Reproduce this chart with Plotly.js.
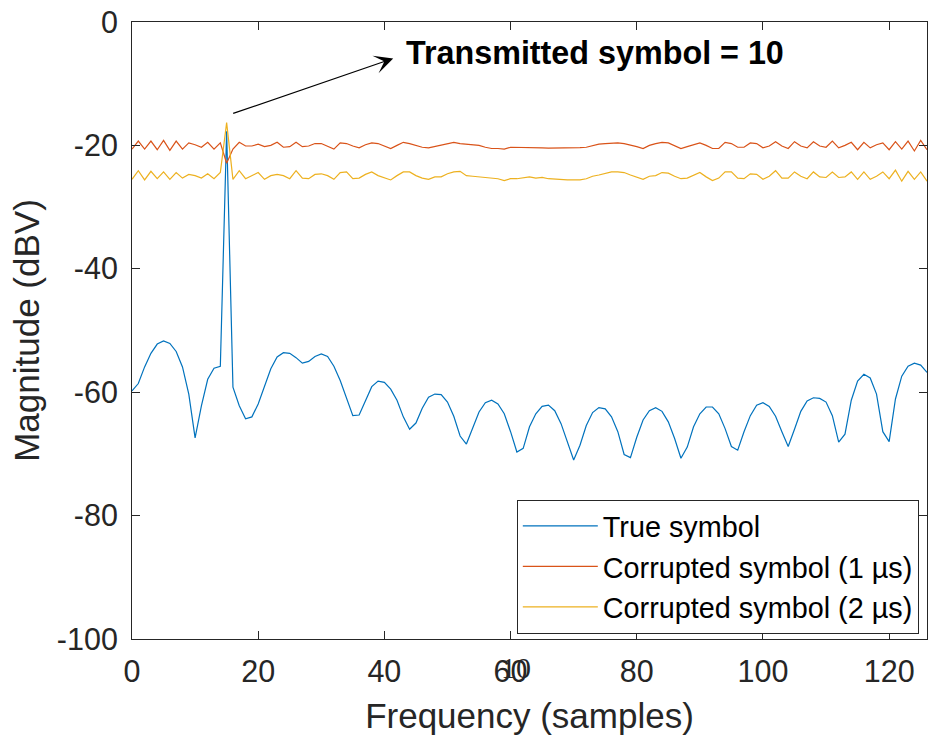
<!DOCTYPE html>
<html>
<head>
<meta charset="utf-8">
<script src="https://cdn.plot.ly/plotly-3.0.1.min.js"></script>
<style>html,body{margin:0;padding:0;background:#fff;}#chart{width:929px;height:742px;}</style>
</head>
<body>
<div id="chart"></div>
<script>
const frequency = [0,1,2,3,4,5,6,7,8,9,10,11,12,13,14,15,16,17,18,19,20,21,22,23,24,25,26,27,28,29,30,31,32,33,34,35,36,37,38,39,40,41,42,43,44,45,46,47,48,49,50,51,52,53,54,55,56,57,58,59,60,61,62,63,64,65,66,67,68,69,70,71,72,73,74,75,76,77,78,79,80,81,82,83,84,85,86,87,88,89,90,91,92,93,94,95,96,97,98,99,100,101,102,103,104,105,106,107,108,109,110,111,112,113,114,115,116,117,118,119,120,121,122,123,124,125,126];

const trueSymbol = [
-59.8,-58.6,-55.9,-53.7,-52.2,-51.7,-52.1,-53.4,-55.9,-60.3,
-67.4,-62.2,-57.9,-56.1,-55.8,-17.7,-59.2,-62.2,-64.3,-64.0,
-61.9,-58.9,-56.2,-54.3,-53.6,-53.7,-54.4,-55.3,-55.0,-54.2,
-53.8,-54.2,-55.8,-58.1,-61.1,-63.8,-63.7,-61.3,-59.1,-58.2,
-58.4,-59.5,-61.3,-64.0,-66.0,-65.0,-62.6,-60.8,-60.3,-60.4,
-61.6,-63.9,-67.1,-68.4,-65.9,-63.2,-61.7,-61.3,-61.9,-63.5,
-66.4,-69.7,-69.1,-65.6,-63.5,-62.3,-62.1,-63.0,-65.1,-68.1,
-71.0,-68.6,-65.4,-63.3,-62.5,-62.7,-64.0,-66.4,-70.1,-70.6,
-67.3,-64.5,-63.0,-62.5,-63.1,-64.8,-67.5,-70.7,-68.9,-65.6,
-63.5,-62.4,-62.4,-63.5,-65.9,-68.8,-69.4,-66.4,-63.8,-62.1,
-61.7,-62.3,-63.9,-66.4,-68.8,-66.0,-63.1,-61.4,-60.9,-61.0,
-61.6,-63.8,-68.1,-66.8,-61.3,-58.2,-57.1,-57.7,-60.3,-66.4,
-68.0,-61.1,-57.4,-55.8,-55.3,-55.6,-56.8];

const corrupted1us = [
-20.6,-19.3,-20.6,-19.3,-20.7,-19.2,-20.8,-19.3,-20.6,-19.6,
-19.9,-20.3,-19.5,-20.6,-19.6,-22.9,-20.6,-19.5,-20.1,-20.1,
-19.8,-20.2,-20.0,-19.5,-20.3,-20.2,-19.5,-20.2,-20.1,-19.7,
-19.7,-20.1,-20.6,-19.6,-19.7,-20.1,-20.4,-19.9,-19.6,-19.7,
-20.1,-20.5,-20.0,-19.5,-19.7,-20.0,-20.3,-20.4,-20.2,-20.0,
-19.7,-19.5,-19.7,-19.8,-20.0,-20.0,-20.3,-20.5,-20.5,-20.6,
-20.3,-20.3,-20.4,-20.4,-20.4,-20.4,-20.45,-20.45,-20.4,-20.4,
-20.4,-20.35,-20.3,-20.0,-19.8,-19.7,-19.6,-19.6,-19.7,-19.9,
-20.2,-20.5,-20.0,-19.7,-19.5,-19.6,-20.1,-20.5,-20.2,-19.9,
-19.6,-20.0,-20.5,-20.5,-19.5,-19.7,-20.3,-20.3,-19.6,-19.7,
-20.4,-20.1,-19.4,-20.1,-20.5,-19.4,-20.1,-20.4,-19.4,-20.1,
-20.3,-19.3,-20.4,-20.0,-19.5,-20.7,-19.5,-20.4,-19.9,-19.6,
-20.7,-19.4,-20.6,-19.3,-20.9,-19.2,-20.7];

const corrupted2us = [
-25.5,-24.1,-25.6,-24.2,-25.4,-24.3,-25.5,-24.4,-25.3,-24.7,
-24.9,-25.3,-24.6,-25.4,-24.4,-16.3,-25.5,-24.1,-25.4,-24.9,
-24.4,-25.5,-24.9,-24.7,-24.9,-25.4,-24.1,-25.3,-25.4,-24.7,
-24.6,-24.9,-25.5,-24.4,-24.3,-25.4,-25.3,-24.7,-24.3,-24.9,
-25.3,-25.6,-24.9,-24.3,-24.3,-24.9,-25.3,-25.5,-25.1,-25.1,
-24.6,-24.3,-24.2,-24.9,-25.0,-25.1,-25.1,-25.3,-25.4,-25.7,
-25.4,-25.4,-25.3,-25.1,-25.3,-25.2,-25.4,-25.5,-25.6,-25.6,
-25.6,-25.6,-25.4,-25.0,-24.8,-24.6,-24.3,-24.3,-24.4,-24.8,
-25.2,-25.5,-25.0,-24.9,-24.4,-24.5,-25.0,-25.4,-25.3,-24.9,
-24.4,-25.1,-25.7,-25.3,-24.3,-24.3,-25.3,-25.4,-24.6,-24.7,
-25.5,-25.0,-24.1,-25.3,-25.3,-24.3,-25.0,-25.4,-24.3,-25.1,
-25.2,-24.3,-25.2,-25.1,-24.3,-25.5,-24.3,-25.5,-25.0,-24.3,
-25.4,-24.0,-25.8,-24.2,-25.5,-24.3,-25.8];

const seriesNames = ['True symbol', 'Corrupted symbol (1 \u00b5s)', 'Corrupted symbol (2 \u00b5s)'];
const xTickVals = [0, 20, 40, 60, 80, 100, 120];
const xTickText = ['0', '20', '40', '60', '80', '100', '120'];
const yTickVals = [-100, -80, -60, -40, -20, 0];
const yTickText = ['-100', '-80', '-60', '-40', '-20', '0'];
const annotationText = 'Transmitted symbol = 10';
const strayLabel = '10';

const FONT = 'Liberation Sans, Arial, Helvetica, sans-serif';
const AX = '#262626';
const colors = ['#0072BD', '#D95319', '#EDB120'];
const series = [trueSymbol, corrupted1us, corrupted2us];

const traces = series.map((ys, k) => ({
  type: 'scatter', mode: 'lines', x: frequency, y: ys, name: seriesNames[k],
  line: {color: colors[k], width: 1.2}
}));

const axisCommon = {
  showline: true, linecolor: AX, linewidth: 1, mirror: 'ticks',
  ticks: 'inside', ticklen: 8, tickwidth: 1, tickcolor: AX,
  showgrid: false, zeroline: false, automargin: false,
  tickfont: {family: FONT, size: 30.5, color: AX}
};

const layout = {
  width: 929, height: 742,
  margin: {l: 132, r: 1.5, t: 22, b: 103},
  paper_bgcolor: '#fff', plot_bgcolor: '#fff',
  showlegend: true,
  xaxis: Object.assign({}, axisCommon, {
    range: [0, 126], tickmode: 'array', tickvals: xTickVals, ticktext: xTickText,
    ticklabelstandoff: 5,
    title: {text: 'Frequency (samples)', font: {family: FONT, size: 35, color: AX}, standoff: 16}
  }),
  yaxis: Object.assign({}, axisCommon, {
    range: [-100, 0], tickmode: 'array', tickvals: yTickVals, ticktext: yTickText,
    ticklabelstandoff: 7,
    title: {text: 'Magnitude (dBV)', font: {family: FONT, size: 35, color: AX}, standoff: 6}
  }),
  legend: {
    x: 0.9897, xanchor: 'right', y: 0.0086, yanchor: 'bottom',
    bgcolor: '#fff', bordercolor: AX, borderwidth: 1,
    font: {family: FONT, size: 28.8, color: '#000'},
    itemwidth: 75, tracegroupgap: 0
  },
  annotations: [
    {x: 41.4, y: -5.9, xref: 'x', yref: 'y', ax: 15.8, ay: -14.9, axref: 'x', ayref: 'y',
     text: '', showarrow: true, arrowhead: 3, arrowsize: 2.6, arrowwidth: 1.2, arrowcolor: '#000'},
    {x: 43.1, y: -5.0, xref: 'x', yref: 'y', xanchor: 'left', yanchor: 'middle', showarrow: false,
     text: '<b>' + annotationText + '</b>', font: {family: FONT, size: 32.3, color: '#000'}},
    {x: 0.4829, y: -0.0465, xref: 'paper', yref: 'paper', xanchor: 'center', yanchor: 'middle', showarrow: false,
     text: strayLabel, font: {family: 'Liberation Serif, serif', size: 30, color: AX}}
  ]
};

Plotly.newPlot('chart', traces, layout, {staticPlot: true, displayModeBar: false});
</script>
</body>
</html>
